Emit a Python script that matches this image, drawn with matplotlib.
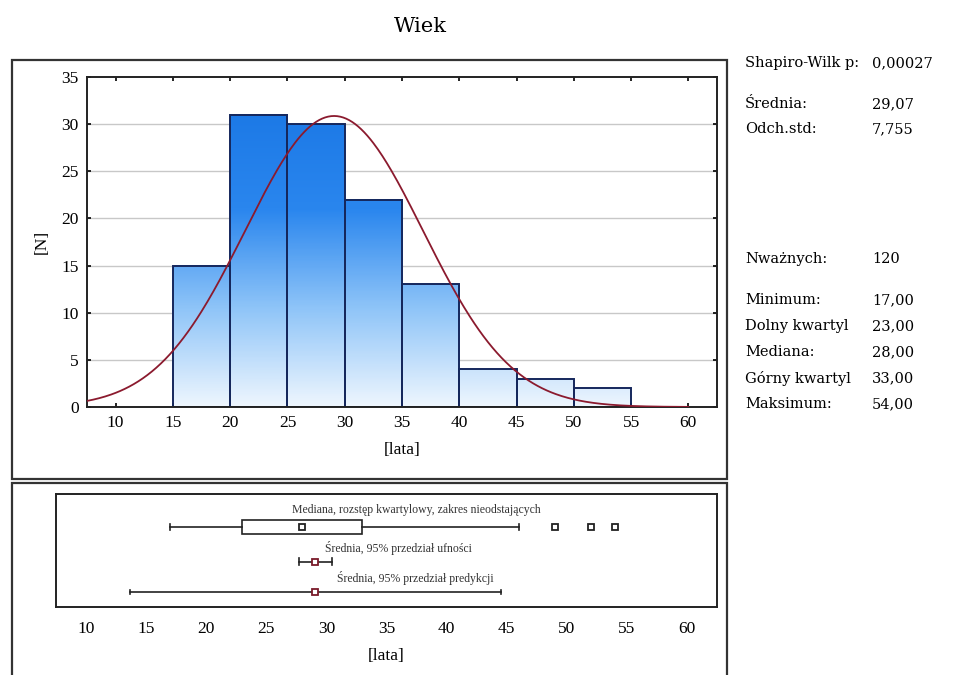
import numpy as np
import matplotlib
matplotlib.use("Agg")
import matplotlib.pyplot as plt
from matplotlib.colors import LinearSegmentedColormap, Normalize
from matplotlib.patches import Rectangle

# ---- data ----
bin_edges = [15, 20, 25, 30, 35, 40, 45, 50, 55]
counts = [15, 31, 30, 22, 13, 4, 3, 2]
x_ticks = [10, 15, 20, 25, 30, 35, 40, 45, 50, 55, 60]
y_ticks = [0, 5, 10, 15, 20, 25, 30, 35]
mean_val = 29.07
std_val = 7.755
n_val = 120
box_min, box_q1, box_med, box_q3, box_max = 17, 23, 28, 33, 46
outliers = [49, 52, 54]
ci_lo, ci_hi = 27.68, 30.46
pred_lo, pred_hi = 13.65, 44.49
stat_labels = ["Shapiro-Wilk p:", "Średnia:", "Odch.std:", "Nważnych:", "Minimum:",
               "Dolny kwartyl", "Mediana:", "Górny kwartyl", "Maksimum:"]
stat_values = ["0,00027", "29,07", "7,755", "120", "17,00", "23,00", "28,00", "33,00", "54,00"]
stat_rows_px = [63, 104, 129, 259, 300, 326, 352, 378, 404]

FONT = "Liberation Serif"
plt.rcParams['font.family'] = [FONT, 'DejaVu Serif']

W, H = 972, 675
fig = plt.figure(figsize=(W / 100, H / 100), dpi=100)
fig.patch.set_facecolor("white")

def fx(px):
    return px / W

def fy(py):
    return 1 - py / H

# outer panel boxes
for (x0, y0, x1, y1) in [(12, 60, 727, 479), (12, 483, 727, 690)]:
    fig.patches.append(Rectangle((fx(x0), fy(y1)), fx(x1) - fx(x0), fy(y0) - fy(y1),
                                 transform=fig.transFigure, fill=False,
                                 edgecolor="#333333", lw=1.6))

fig.text(fx(420), fy(27), "Wiek", ha="center", va="center", fontsize=15,
         family=["DejaVu Serif"])

# ---- histogram axes ----
ax = fig.add_axes([fx(87), fy(407), fx(717) - fx(87), fy(77) - fy(407)])
ax.set_xlim(7.5, 62.5)
ax.set_ylim(0, 35)
ax.set_yticks(y_ticks)
ax.set_xticks(x_ticks)
for yv in y_ticks[1:-1]:
    ax.axhline(yv, color="#c8c8c8", lw=1.0, zorder=0)

cmap = LinearSegmentedColormap.from_list("bl", ["#eef6fe", "#8ec4f8", "#2a86ee", "#1c79e6"])
norm = Normalize(0, 31.5)
for i, c in enumerate(counts):
    l, r = bin_edges[i], bin_edges[i + 1]
    grad = np.linspace(0, c, 200)[:, None]
    ax.imshow(grad, extent=(l, r, 0, c), origin="lower", aspect="auto",
              cmap=cmap, norm=norm, zorder=1, interpolation="bilinear")
ax.bar(bin_edges[:-1], counts, width=5, align="edge", fill=False,
       edgecolor="#15275c", lw=1.4, zorder=2)
ax.set_xlim(7.5, 62.5)
ax.set_ylim(0, 35)

xs = np.linspace(7.5, 60, 400)
binw = bin_edges[1] - bin_edges[0]
ys = n_val * binw / (std_val * np.sqrt(2 * np.pi)) * np.exp(-0.5 * ((xs - mean_val) / std_val) ** 2)
ax.plot(xs, ys, color="#8b1a2e", lw=1.3, zorder=3)

ax.tick_params(direction="in", top=True, right=True, labeltop=False, labelright=False,
               length=3, width=1.2, labelsize=12.5, pad=6)
for sp in ax.spines.values():
    sp.set_linewidth(1.4)
    sp.set_color("#222222")
ax.set_xlabel("[lata]", fontsize=12.5, labelpad=8)
ax.set_ylabel("[N]", fontsize=12.5, labelpad=8)

# ---- box plot axes ----
bx = fig.add_axes([fx(56), fy(607), fx(717) - fx(56), fy(494) - fy(607)])
bx.set_xlim(7.5, 62.5)
bx.set_ylim(1, 0)
bx.set_yticks([])
bx.set_xticks(x_ticks)
bx.tick_params(axis="x", length=0, labelsize=12.5, pad=10)
for sp in bx.spines.values():
    sp.set_linewidth(1.4)
    sp.set_color("#222222")
bx.set_xlabel("[lata]", fontsize=12.5, labelpad=8)

yb, yc, yp = 0.292, 0.60, 0.867
hb = 0.058
lc = "#222222"
bx.plot([box_min, box_q1], [yb, yb], color=lc, lw=1.2)
bx.plot([box_q3, box_max], [yb, yb], color=lc, lw=1.2)
for xv in (box_min, box_max):
    bx.plot([xv, xv], [yb - 0.03, yb + 0.03], color=lc, lw=1.2)
bx.add_patch(Rectangle((box_q1, yb - hb), box_q3 - box_q1, 2 * hb, fill=False, edgecolor=lc, lw=1.2))
bx.plot([box_med], [yb], marker="s", ms=5, mfc="white", mec=lc, mew=1.3, ls="none")
bx.plot(outliers, [yb] * len(outliers), marker="s", ms=4.5, mfc="white", mec=lc, mew=1.3, ls="none")

bx.plot([ci_lo, ci_hi], [yc, yc], color=lc, lw=1.2)
for xv in (ci_lo, ci_hi):
    bx.plot([xv, xv], [yc - 0.03, yc + 0.03], color=lc, lw=1.2)
bx.plot([mean_val], [yc], marker="s", ms=5, mfc="white", mec="#7a1a2a", mew=1.3, ls="none")

bx.plot([pred_lo, pred_hi], [yp, yp], color=lc, lw=1.2)
for xv in (pred_lo, pred_hi):
    bx.plot([xv, xv], [yp - 0.02, yp + 0.02], color=lc, lw=1.2)
bx.plot([mean_val], [yp], marker="s", ms=5, mfc="white", mec="#7a1a2a", mew=1.3, ls="none")

bx.text(37.5, 0.14, "Mediana, rozstęp kwartylowy, zakres nieodstających", ha="center", va="center",
        fontsize=8.5, color="#333333")
bx.text(36.0, 0.48, "Średnia, 95% przedział ufności", ha="center", va="center",
        fontsize=8.5, color="#333333")
bx.text(37.4, 0.745, "Średnia, 95% przedział predykcji", ha="center", va="center",
        fontsize=8.5, color="#333333")

# ---- stats text ----
for lab, val, py in zip(stat_labels, stat_values, stat_rows_px):
    fig.text(fx(745), fy(py), lab, ha="left", va="center", fontsize=10.5,
             family=["DejaVu Serif"])
    fig.text(fx(872), fy(py), val, ha="left", va="center", fontsize=10.5,
             family=["DejaVu Serif"])

fig.savefig("out.png", dpi=100, facecolor="white")
